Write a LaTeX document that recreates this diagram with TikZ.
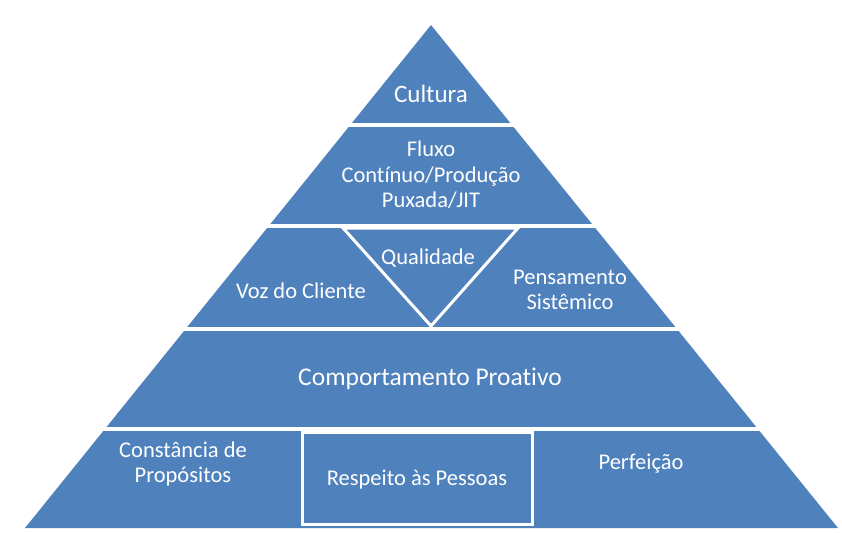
\documentclass[tikz,border=0pt]{standalone}
\usepackage{fontspec}
\setmainfont[Ligatures=NoCommon]{Carlito}
\definecolor{pyr}{HTML}{4F81BD}
\begin{document}
\begin{tikzpicture}[x=1pt,y=-1pt,
  sep/.style={draw=white,line width=4pt},
  frame/.style={draw=white,line width=3pt},
  lbl/.style={text=white,font=\fontsize{22.5}{25.5}\selectfont,align=center,inner sep=0pt}]
\useasboundingbox (0,0) rectangle (842,533);
% pyramid body
\fill[pyr] (431,25) -- (838,528) -- (25,528) -- cycle;
% layer separators
\draw[sep] (340,125) -- (522,125);
\draw[sep] (255,226) -- (607,226);
\draw[sep] (172,328.5) -- (690,328.5);
\draw[sep] (88,429) -- (774,429);
% inverted triangle and box
\draw[frame,line join=miter] (343,228) -- (518,228) -- (431,326) -- cycle;
\draw[frame] (302,432) rectangle (532,524);
% labels
\node[lbl,font=\fontsize{25}{28}\selectfont] (cultura) at (431,94) {Cultura};
\node[lbl] (fluxo) at (431,175) {Fluxo\\Contínuo/Produção\\Puxada/JIT};
\node[lbl] (qual) at (428,258) {Qualidade};
\node[lbl] (voz) at (301,291) {Voz do Cliente};
\node[lbl] (pens) at (570,290) {Pensamento\\Sistêmico};
\node[lbl,font=\fontsize{25.5}{28}\selectfont] (comp) at (430,379) {Comportamento Proativo};
\node[lbl] (const) at (183,464) {Constância de\\Propósitos};
\node[lbl] (resp) at (417,480) {Respeito às Pessoas};
\node[lbl] (perf) at (641,464) {Perfeição};
\end{tikzpicture}
\end{document}
